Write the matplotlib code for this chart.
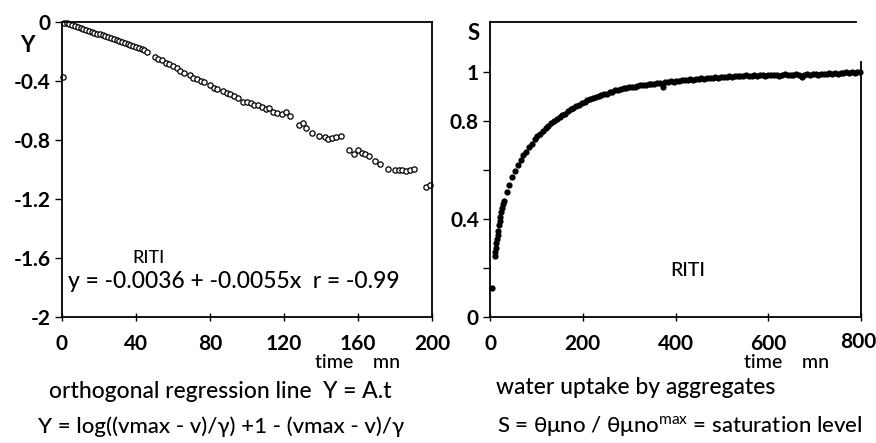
import matplotlib
matplotlib.use("Agg")
import matplotlib.pyplot as plt

plt.rcParams["font.family"] = ["Lato", "DejaVu Sans"]
plt.rcParams["mathtext.fontset"] = "custom"
plt.rcParams["mathtext.rm"] = "Lato"

# ---------------- data: left panel (Y vs time, open circles) ----------------
t_left = [1, 2.5, 4, 5.5, 7, 8.5, 10, 11.5, 13, 14.5, 16, 17.5, 19, 20.5, 22, 23.5,
          25, 26.5, 28, 29.5, 31, 32.5, 34, 35.5, 37, 38.5, 40, 41.5, 43, 44.5, 46,
          50, 52, 54, 56, 58, 60, 62, 64, 66, 69, 71, 73, 75, 77, 80, 82, 84, 87, 89,
          91, 93, 95, 98, 100, 102, 104, 106, 108, 110, 112, 114, 116, 119, 121, 123,
          128, 130, 132, 135, 139, 142, 144, 146, 148, 151, 155, 158, 160, 162, 164,
          166, 169, 172, 176, 180, 182, 184, 186, 188, 190, 197, 199, 0.3]
y_left = [-0.004, -0.008, -0.012, -0.02, -0.028, -0.035, -0.04, -0.047, -0.055, -0.06,
          -0.065, -0.072, -0.08, -0.083, -0.09, -0.097, -0.104, -0.11, -0.116, -0.122,
          -0.13, -0.135, -0.142, -0.15, -0.156, -0.163, -0.17, -0.178, -0.184, -0.19,
          -0.2, -0.235, -0.25, -0.26, -0.275, -0.285, -0.3, -0.315, -0.33, -0.345,
          -0.36, -0.38, -0.385, -0.4, -0.41, -0.43, -0.445, -0.455, -0.465, -0.48,
          -0.49, -0.5, -0.515, -0.54, -0.545, -0.55, -0.56, -0.565, -0.575, -0.59,
          -0.585, -0.61, -0.615, -0.625, -0.61, -0.64, -0.7, -0.685, -0.72, -0.755,
          -0.77, -0.78, -0.79, -0.785, -0.78, -0.775, -0.87, -0.895, -0.87, -0.885,
          -0.895, -0.91, -0.945, -0.96, -0.995, -1.0, -1.005, -1.0, -1.01, -1.0,
          -0.995, -1.12, -1.105, -0.37]

# ---------------- data: right panel (S vs time, filled dots) ----------------
t_right = [3.6, 10, 11, 12.5, 14, 15, 16.5, 18, 19.5, 21, 22.5, 24, 26, 28,
           30, 36, 42, 48, 54, 60, 66, 72, 78, 84, 90, 96, 102, 108, 114, 120, 126,
           132, 138, 144, 150, 156, 162, 168, 174, 180, 186, 192, 198, 204, 210, 216,
           222, 228, 234, 240, 246, 252, 258, 264, 270, 276, 282, 288, 294, 300, 306,
           312, 318, 324, 330, 336, 342, 348, 354, 360, 366, 372, 378, 384, 390, 396,
           402, 408, 414, 420, 426, 432, 438, 444, 450, 456, 462, 468, 474, 480, 486,
           492, 498, 504, 510, 516, 522, 528, 534, 540, 546, 552, 558, 564, 570, 576,
           582, 588, 594, 600, 606, 612, 618, 624, 630, 636, 642, 648, 654, 660, 666,
           672, 678, 684, 690, 696, 702, 708, 714, 720, 726, 732, 738, 744, 750, 756,
           762, 768, 774, 780, 786, 792, 798]
s_right = [0.12, 0.25, 0.265, 0.28, 0.30, 0.32, 0.335, 0.35, 0.375, 0.39, 0.41, 0.43,
           0.445, 0.46,
           0.475, 0.51, 0.54, 0.57, 0.595, 0.62, 0.64, 0.66, 0.675, 0.695, 0.705, 0.725,
           0.74, 0.745, 0.76, 0.77, 0.78, 0.79, 0.80, 0.81, 0.815, 0.825, 0.83, 0.84,
           0.85, 0.855, 0.86, 0.865, 0.872, 0.878, 0.885, 0.89, 0.893, 0.898, 0.902,
           0.905, 0.91, 0.912, 0.917, 0.92, 0.925, 0.926, 0.93, 0.933, 0.936, 0.94,
           0.938, 0.94, 0.944, 0.945, 0.948, 0.946, 0.95, 0.952, 0.95, 0.955, 0.953,
           0.94, 0.958, 0.96, 0.962, 0.96, 0.965, 0.963, 0.966, 0.968, 0.967, 0.97,
           0.968, 0.972, 0.971, 0.974, 0.972, 0.976, 0.975, 0.977, 0.978, 0.976, 0.98,
           0.979, 0.981, 0.983, 0.98, 0.984, 0.982, 0.985, 0.983, 0.986, 0.985, 0.984,
           0.987, 0.985, 0.988, 0.986, 0.985, 0.988, 0.986, 0.989, 0.987, 0.985, 0.988,
           0.99, 0.987, 0.989, 0.986, 0.99, 0.988, 0.98, 0.989, 0.991, 0.988, 0.99,
           0.992, 0.989, 0.991, 0.993, 0.99, 0.994, 0.992, 0.997, 0.993, 0.996, 0.994,
           0.999, 0.995, 0.998, 0.996, 1.0, 0.998]

left_xticks = [0, 40, 80, 120, 160, 200]
left_yticks = [0, -0.4, -0.8, -1.2, -1.6, -2]
left_ylabels = ["0", "-0.4", "-0.8", "-1.2", "-1.6", "-2"]
right_xticks = [0, 200, 400, 600, 800]
right_xlabels = ["0", "200", "400", "600", "800"]
right_yticks = [0, 0.2, 0.4, 0.6, 0.8, 1.0]
right_ylabels = ["0", "", "0.4", "", "0.8", "1"]

W, H = 876, 443


def P(x, y):
    return x / W, 1 - y / H


fig = plt.figure(figsize=(W / 100, H / 100), dpi=100)
ax1 = fig.add_axes([62 / W, 1 - 317 / H, 370 / W, 295 / H])
ax2 = fig.add_axes([490 / W, 1 - 317 / H, 371 / W, 295 / H])

TF = 15
TW = "bold"
CW = "medium"
for ax in (ax1, ax2):
    for s in ax.spines.values():
        s.set_linewidth(1.3)
        s.set_color("black")
    ax.tick_params(axis="y", direction="out", length=5, width=1, labelsize=TF, pad=3)
    ax.tick_params(axis="x", direction="inout", length=6, width=1, labelsize=TF, pad=9)

ax1.plot(t_left, y_left, "o", mfc="white", mec="black", ms=3.8, mew=0.9,
         linestyle="none", clip_on=False)
ax1.set_xlim(0, 200)
ax1.set_ylim(-2, 0)
ax1.set_xticks(left_xticks)
ax1.set_xticklabels([str(v) for v in left_xticks], fontweight=TW)
ax1.set_yticks(left_yticks)
ax1.set_yticklabels(left_ylabels, fontweight=TW)

ax2.plot(t_right, s_right, "o", color="black", ms=4.5, mew=0, linestyle="none",
         clip_on=False)
ax2.set_xlim(0, 800)
ax2.set_ylim(0, 1.204)
ax2.set_xticks(right_xticks)
# the last label sits at the figure edge; drawn separately a few px inward
ax2.set_xticklabels(right_xlabels[:-1] + [""], fontweight=TW)
ax2.set_yticks(right_yticks)
ax2.set_yticklabels(right_ylabels, fontweight=TW)
ax2.spines["right"].set_bounds(0, 1.04)
ax2.spines["top"].set_bounds(0, 790)
x800 = ax2.transData.transform((right_xticks[-1], 0))[0]
fig.text((x800 - 3) / W, 1 - 332 / H, right_xlabels[-1], ha="center", va="top",
         fontsize=TF, fontweight=TW)

# axis letters
fig.text(*P(27, 45), "Y", ha="center", va="center", fontsize=16, fontweight=TW)
fig.text(*P(474, 34), "S", ha="center", va="center", fontsize=16, fontweight=TW)

# in-plot annotations
fig.text(*P(149, 258), "RITI", ha="center", va="center", fontsize=13, fontweight=CW)
fig.text(*P(234, 281), "y = -0.0036 + -0.0055x  r = -0.99", ha="center", va="center",
         fontsize=16.5, fontweight=CW)
fig.text(*P(688, 270), "RITI", ha="center", va="center", fontsize=14, fontweight=CW)

# axis unit labels
fig.text(*P(358, 354), "time    mn", ha="center", va="top", fontsize=14, fontweight=CW)
fig.text(*P(787, 354), "time    mn", ha="center", va="top", fontsize=14, fontweight=CW)

# captions
fig.text(*P(220, 392), "orthogonal regression line  Y = A.t", ha="center", va="center",
         fontsize=16.5, fontweight=CW)
fig.text(*P(221, 427), "Y = log((vmax - v)/γ) +1 - (vmax - v)/γ", ha="center",
         va="center", fontsize=16, fontweight=CW)
fig.text(*P(636, 387), "water uptake by aggregates", ha="center", va="center",
         fontsize=16.5, fontweight=CW)
fig.text(*P(680, 427), r"S = θμno / θμno$^{\mathrm{max}}$ = saturation level",
         ha="center", va="center", fontsize=16, fontweight=CW)

fig.savefig("out.png", dpi=100)
